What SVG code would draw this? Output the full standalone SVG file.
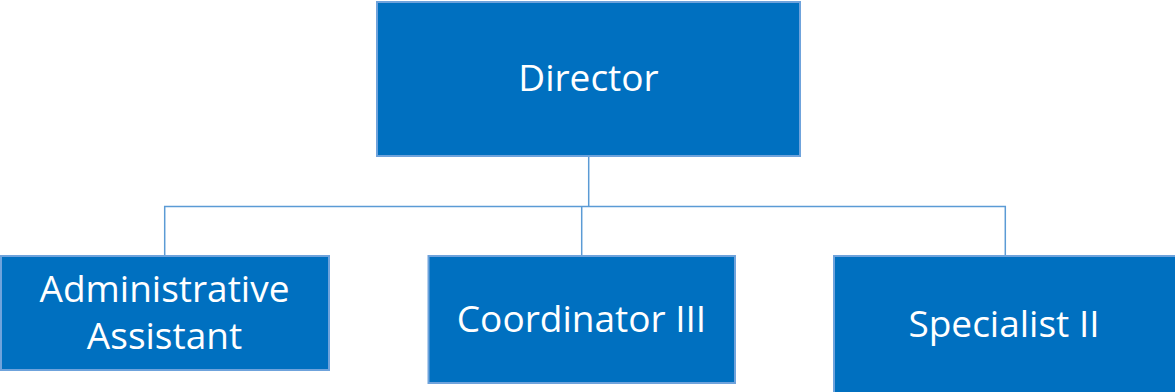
<svg xmlns="http://www.w3.org/2000/svg" width="1175" height="392" viewBox="0 0 1175 392">
<style>
.box{fill:#0070C0;stroke:#6FA3DC;stroke-width:2}
.lbl{fill:#FFFFFF;font-family:"Open Sans","Noto Sans","Liberation Sans",sans-serif;font-size:37px;text-anchor:middle}
.conn{fill:none;stroke:#5B9BD5;stroke-width:1.5}
</style>
<rect width="1175" height="392" fill="#FFFFFF"/>
<g id="connectors">
<path class="conn" d="M588.7,156 V206.5"/>
<path class="conn" d="M164.7,256 V206.5 H1005.3 V256"/>
<path class="conn" d="M581.7,206.5 V256"/>
</g>
<g id="director">
<rect class="box" x="377" y="2" width="423" height="154"/>
<text class="lbl" x="588.5" y="91">Director</text>
</g>
<g id="admin-assistant">
<rect class="box" x="1" y="256" width="328" height="114"/>
<text class="lbl" x="164.5" y="301.5">Administrative</text>
<text class="lbl" x="164.5" y="349">Assistant</text>
</g>
<g id="coordinator">
<rect class="box" x="428.5" y="256" width="306.5" height="127"/>
<text class="lbl" x="581.5" y="331.5">Coordinator III</text>
</g>
<g id="specialist">
<rect class="box" x="834" y="256" width="345" height="140"/>
<text class="lbl" x="1004" y="336.5">Specialist II</text>
</g>
</svg>
